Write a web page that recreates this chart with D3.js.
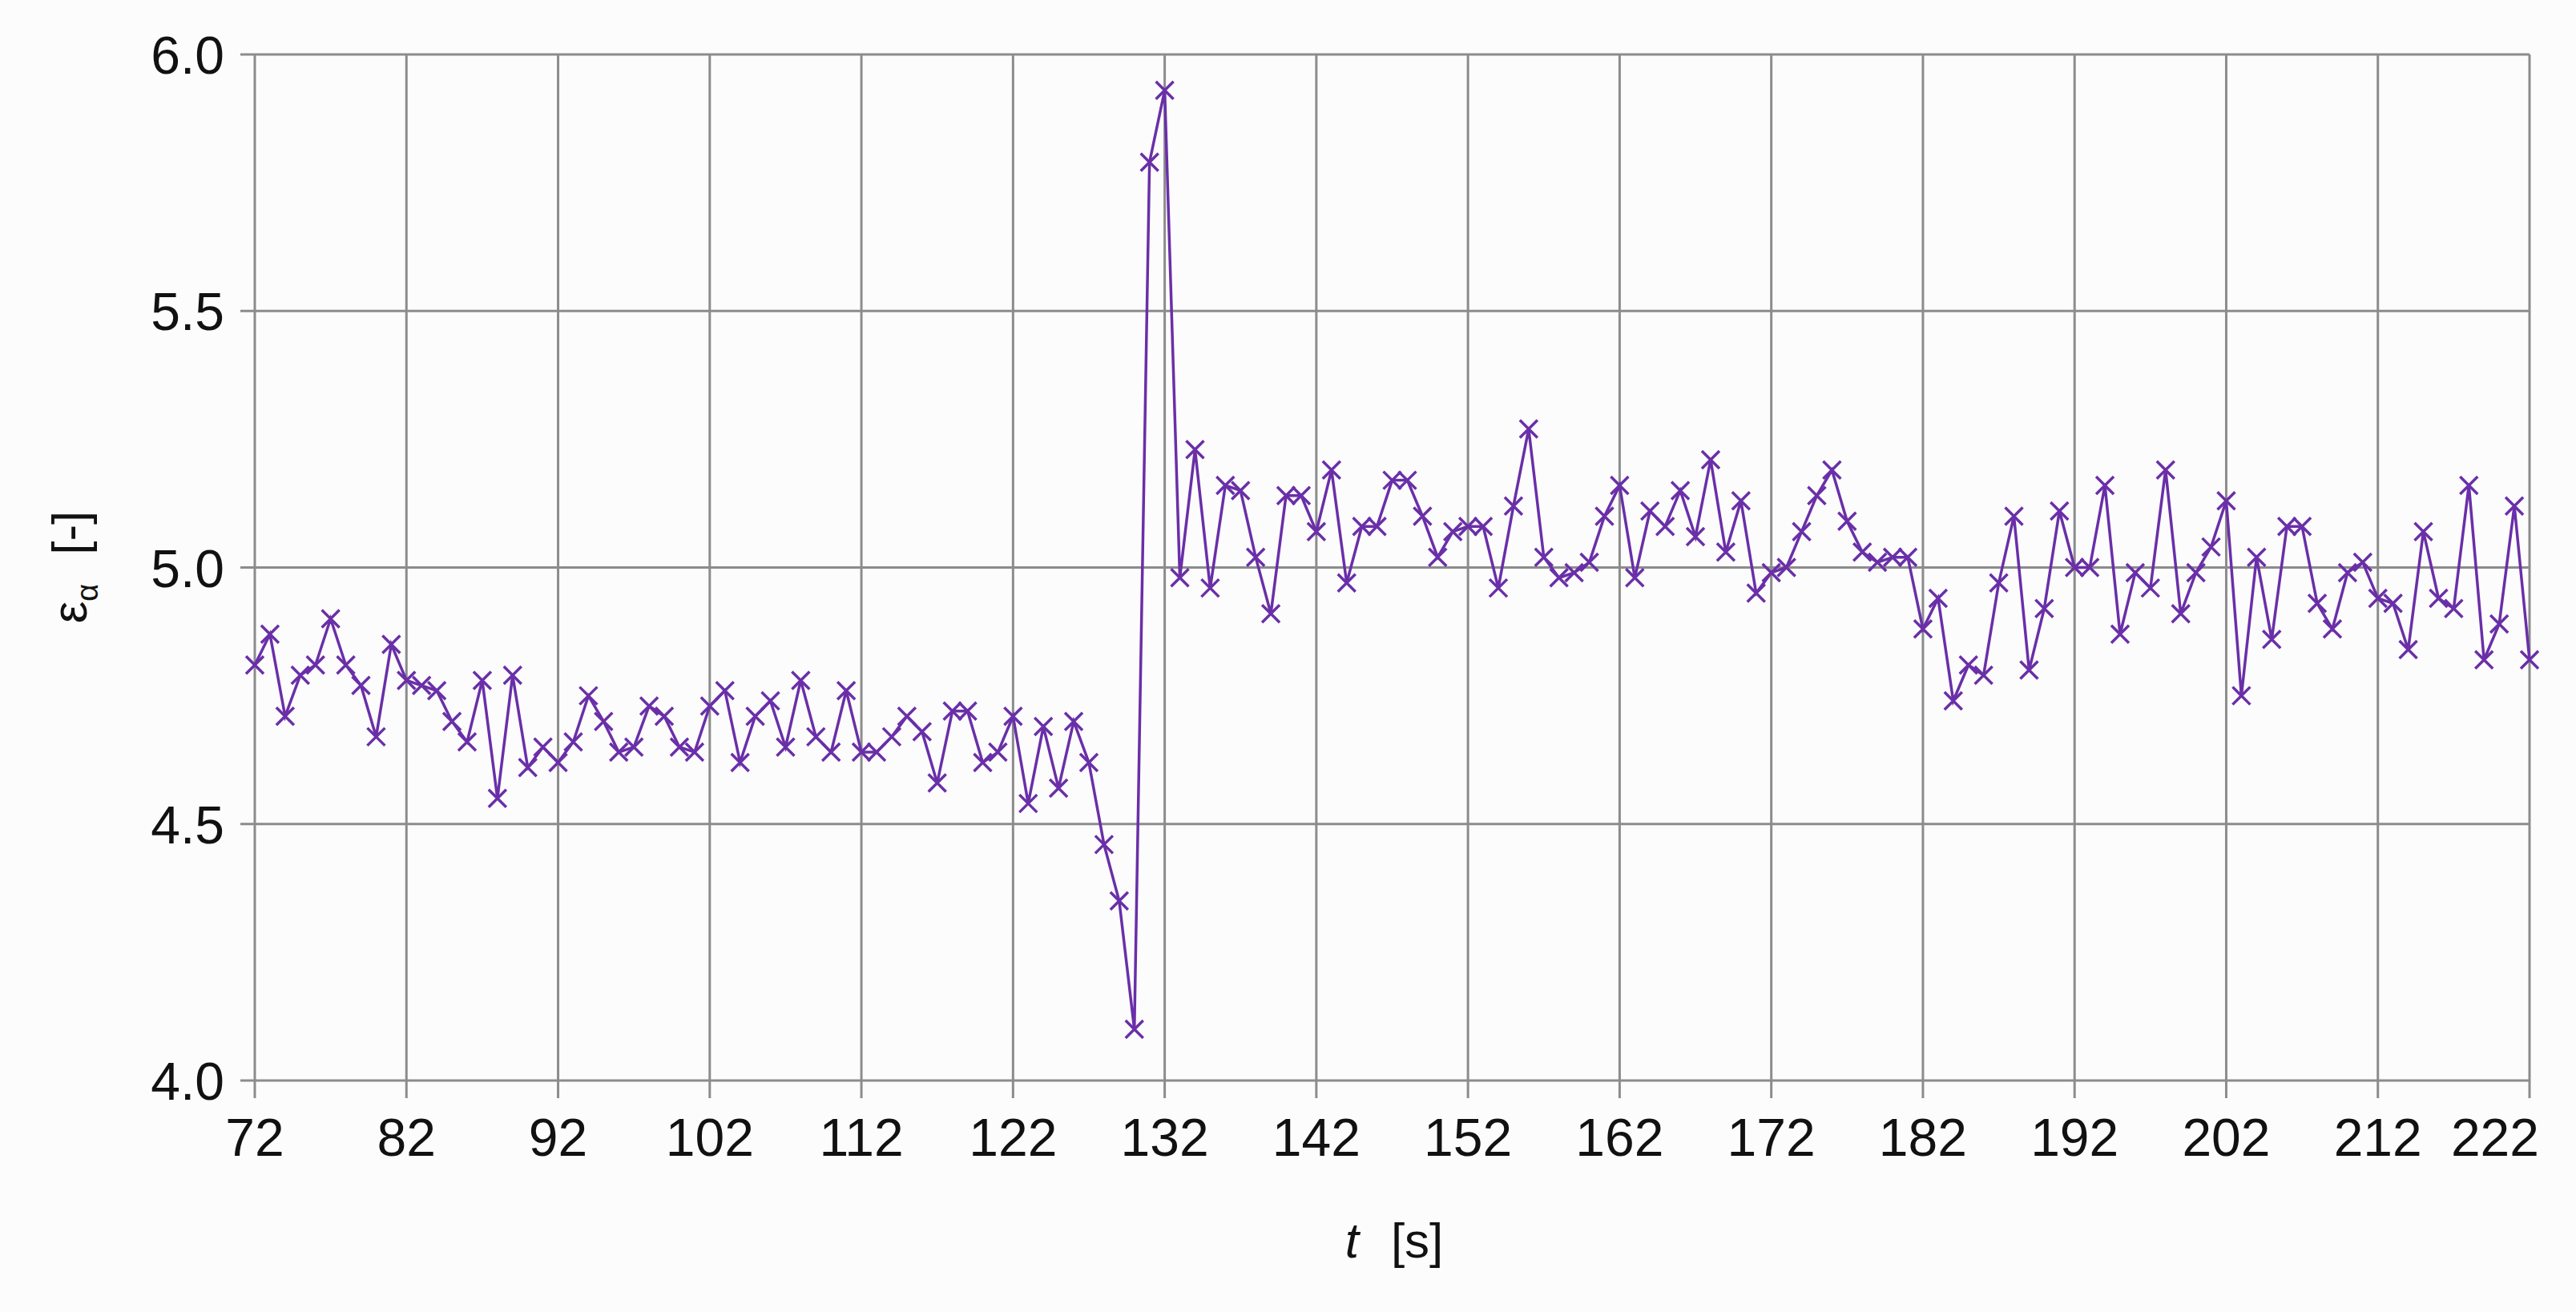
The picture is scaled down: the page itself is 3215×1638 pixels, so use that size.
<!DOCTYPE html>
<html lang="en">
<head>
<meta charset="utf-8">
<title>epsilon alpha vs t</title>
<script src="https://d3js.org/d3.v7.min.js"></script>
<style>
    body { margin: 0; background: #fcfcfc; }
    .grid line { stroke: #8c8c8c; stroke-width: 3; }
    .tick-label { font-family: "Liberation Sans Narrow", "Liberation Sans", Arial, sans-serif; font-size: 66px; fill: #111; }
    .axis-title { font-family: "Liberation Sans", Arial, sans-serif; font-size: 62px; fill: #111; }
</style>
</head>
<body>
<svg id="chart" width="3215" height="1638"></svg>
<script>
// time axis (s), one sample per second
var tStart = 72;
var xTicks = [72, 82, 92, 102, 112, 122, 132, 142, 152, 162, 172, 182, 192, 202, 212, 222];
var yTicks = [4.0, 4.5, 5.0, 5.5, 6.0];

// epsilon_alpha readings, t = 72 .. 222
var epsBefore = [
    4.81, 4.87, 4.71, 4.79, 4.81, 4.90, 4.81, 4.77, 4.67, 4.85,   // 72-81
    4.78, 4.77, 4.76, 4.70, 4.66, 4.78, 4.55, 4.79, 4.61, 4.65,   // 82-91
    4.62, 4.66, 4.75, 4.70, 4.64, 4.65, 4.73, 4.71, 4.65, 4.64,   // 92-101
    4.73, 4.76, 4.62, 4.71, 4.74, 4.65, 4.78, 4.67, 4.64, 4.76,   // 102-111
    4.64, 4.64, 4.67, 4.71, 4.68, 4.58, 4.72, 4.72, 4.62, 4.64,   // 112-121
    4.71, 4.54, 4.69, 4.57, 4.70, 4.62, 4.46, 4.35, 4.10          // 122-130
];
var epsJump = [5.79, 5.93];                                       // 131-132
var epsAfter = [
    4.98, 5.23, 4.96, 5.16, 5.15, 5.02, 4.91, 5.14, 5.14,         // 133-141
    5.07, 5.19, 4.97, 5.08, 5.08, 5.17, 5.17, 5.10, 5.02, 5.07,   // 142-151
    5.08, 5.08, 4.96, 5.12, 5.27, 5.02, 4.98, 4.99, 5.01, 5.10,   // 152-161
    5.16, 4.98, 5.11, 5.08, 5.15, 5.06, 5.21, 5.03, 5.13, 4.95,   // 162-171
    4.99, 5.00, 5.07, 5.14, 5.19, 5.09, 5.03, 5.01, 5.02, 5.02,   // 172-181
    4.88, 4.94, 4.74, 4.81, 4.79, 4.97, 5.10, 4.80, 4.92, 5.11,   // 182-191
    5.00, 5.00, 5.16, 4.87, 4.99, 4.96, 5.19, 4.91, 4.99, 5.04,   // 192-201
    5.13, 4.75, 5.02, 4.86, 5.08, 5.08, 4.93, 4.88, 4.99, 5.01,   // 202-211
    4.94, 4.93, 4.84, 5.07, 4.94, 4.92, 5.16, 4.82, 4.89, 5.12,   // 212-221
    4.82                                                          // 222
];

var values = epsBefore.concat(epsJump, epsAfter);
var data = values.map(function(v, i) { return { t: tStart + i, eps: v }; });

var margin = { left: 318, right: 3157, top: 68, bottom: 1349 };
var svg = d3.select("#chart");

var x = d3.scaleLinear().domain([72, 222]).range([margin.left, margin.right]);
var y = d3.scaleLinear().domain([4.0, 6.0]).range([margin.bottom, margin.top]);

// grid
var grid = svg.append("g").attr("class", "grid");
grid.selectAll(".v").data(xTicks).enter().append("line")
    .attr("x1", function(d) { return x(d); }).attr("x2", function(d) { return x(d); })
    .attr("y1", margin.top).attr("y2", margin.bottom + 22);
grid.selectAll(".h").data(yTicks).enter().append("line")
    .attr("x1", margin.left - 18).attr("x2", margin.right)
    .attr("y1", function(d) { return y(d); }).attr("y2", function(d) { return y(d); });

// tick labels
svg.selectAll(".ylab").data(yTicks).enter().append("text")
    .attr("class", "tick-label")
    .attr("x", margin.left - 38)
    .attr("y", function(d) { return y(d) + 24; })
    .attr("text-anchor", "end")
    .text(function(d) { return d.toFixed(1); });

svg.selectAll(".xlab").data(xTicks).enter().append("text")
    .attr("class", "tick-label")
    .attr("x", function(d, i) { return i === xTicks.length - 1 ? x(d) + 12 : x(d); })
    .attr("y", margin.bottom + 94)
    .attr("text-anchor", function(d, i) { return i === xTicks.length - 1 ? "end" : "middle"; })
    .text(function(d) { return d; });

// axis titles
var xt = svg.append("text").attr("class", "axis-title")
    .attr("x", 1740).attr("y", 1570).attr("text-anchor", "middle");
xt.append("tspan").attr("font-style", "italic").text("t");
xt.append("tspan").attr("dx", 40).text("[s]");

var yt = svg.append("text").attr("class", "axis-title")
    .attr("transform", "translate(108,708) rotate(-90)")
    .attr("text-anchor", "middle");
yt.append("tspan").text("ε");
yt.append("tspan").attr("font-size", 38).attr("dy", 14).text("α");
yt.append("tspan").attr("dx", 36).attr("dy", -14).text("[-]");

// series
var purple = "#6a2fa8";
var line = d3.line().x(function(d) { return x(d.t); }).y(function(d) { return y(d.eps); });
svg.append("path").datum(data)
    .attr("d", line)
    .attr("fill", "none")
    .attr("stroke", purple)
    .attr("stroke-width", 3.5);

var m = 11;
var marks = svg.append("g").selectAll("g").data(data).enter().append("g")
    .attr("transform", function(d) { return "translate(" + x(d.t) + "," + y(d.eps) + ")"; });
marks.append("path")
    .attr("d", "M" + (-m) + "," + (-m) + "L" + m + "," + m + "M" + (-m) + "," + m + "L" + m + "," + (-m))
    .attr("stroke", purple)
    .attr("stroke-width", 3.5);
</script>
</body>
</html>
